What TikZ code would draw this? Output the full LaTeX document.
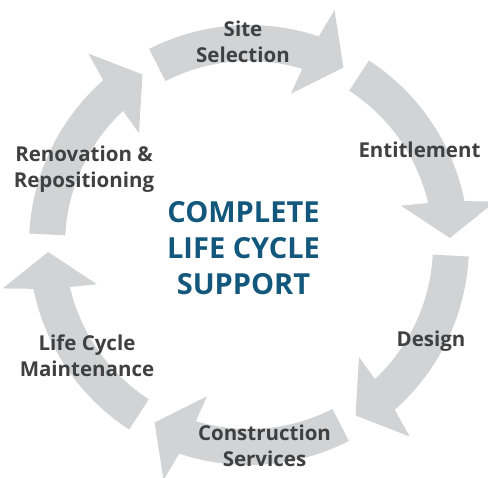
\documentclass[tikz,border=0pt]{standalone}
\usepackage{fontspec}
\setmainfont{Open Sans}
\definecolor{arrowgray}{RGB}{209,211,212}
\definecolor{labelgray}{RGB}{64,64,64}
\definecolor{cycleblue}{RGB}{19,88,124}
\begin{document}
\begin{tikzpicture}[x=1pt, y=1pt,
    cyclearrow/.style={fill=arrowgray, draw=none},
    steplabel/.style={text=labelgray, font=\bfseries\fontsize{20.5}{26}\selectfont, align=center, inner sep=0pt, anchor=base},
    centerlabel/.style={text=cycleblue, font=\bfseries\fontsize{29}{36}\selectfont, align=center, inner sep=0pt, anchor=base}]
        \useasboundingbox (-249,-233) rectangle (239,245);

        %site selection arrow
        \fill [cyclearrow] (117:220) arc[start angle=117, end angle=71.5, radius=220] -- (70:250) -- (62:201) -- (74.5:157) -- (73.2:184) arc[start angle=73.2, end angle=117, radius=184] -- cycle;
        %entitlement arrow
        \fill [cyclearrow] (57:220) arc[start angle=57, end angle=11.5, radius=220] -- (10:250) -- (2:201) -- (14.5:157) -- (13.2:184) arc[start angle=13.2, end angle=57, radius=184] -- cycle;
        %design arrow
        \fill [cyclearrow] (-3:220) arc[start angle=-3, end angle=-48.5, radius=220] -- (-50:250) -- (-58:201) -- (-45.5:157) -- (-46.8:184) arc[start angle=-46.8, end angle=-3, radius=184] -- cycle;
        %construction arrow
        \fill [cyclearrow] (-63:220) arc[start angle=-63, end angle=-108.5, radius=220] -- (-110:250) -- (-118:201) -- (-105.5:157) -- (-106.8:184) arc[start angle=-106.8, end angle=-63, radius=184] -- cycle;
        %maintenance arrow
        \fill [cyclearrow] (237:220) arc[start angle=237, end angle=191.5, radius=220] -- (190:250) -- (182:201) -- (194.5:157) -- (193.2:184) arc[start angle=193.2, end angle=237, radius=184] -- cycle;
        %renovation arrow
        \fill [cyclearrow] (177:220) arc[start angle=177, end angle=131.5, radius=220] -- (130:250) -- (122:201) -- (134.5:157) -- (133.2:184) arc[start angle=133.2, end angle=177, radius=184] -- cycle;

        \node [steplabel] (site) at (-6, 182) {Site\\Selection};
        \node [steplabel] (entitle) at (170.5, 87) {Entitlement};
        \node [steplabel] (design) at (182, -102) {Design};
        \node [steplabel] (construct) at (15.5, -222) {Construction\\Services};
        \node [steplabel] (maint) at (-162, -132) {Life Cycle\\Maintenance};
        \node [steplabel] (renov) at (-165, 57) {Renovation \&\\Repositioning};

        % title in the middle
        \node [centerlabel] (support) at (-5.5, -50) {COMPLETE\\LIFE CYCLE\\SUPPORT};
    \end{tikzpicture}
\end{document}
